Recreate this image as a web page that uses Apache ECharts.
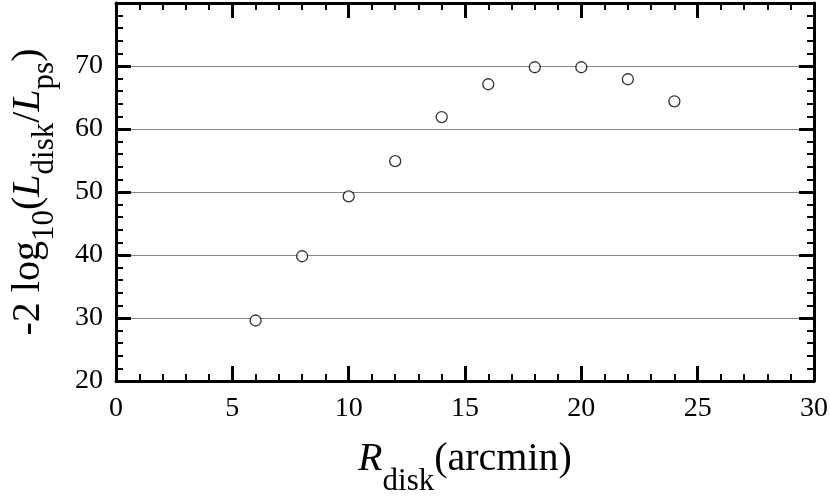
<!DOCTYPE html>
<html>
<head>
<meta charset="utf-8">
<script src="https://cdn.jsdelivr.net/npm/echarts@6/dist/echarts.min.js"></script>
<style>
    html, body { margin: 0; padding: 0; background: #fff; }
    #main { width: 830px; height: 498px; }
</style>
</head>
<body>
<div id="main"></div>
<script>
    // 数据
    const rDisk = [6, 8, 10, 12, 14, 16, 18, 20, 22, 24];
    const logRatio = [29.6, 39.8, 49.3, 54.9, 61.9, 67.1, 69.8, 69.8, 67.9, 64.4];
    const xRange = [0, 30];
    const yRange = [20, 80];
    const yLabelMax = 70; // 80 不显示

    const serif = "'Liberation Serif', 'Times New Roman', serif";

    let chart = echarts.init(document.getElementById('main'));

    // 四边框 + 向内刻度
    function frameAxis(extra) {
        return Object.assign({
            type: 'value',
            axisLine: {show: true, onZero: false, lineStyle: {color: '#000', width: 3}},
            axisTick: {show: true, inside: true, length: 15, lineStyle: {color: '#000', width: 3}},
            minorTick: {show: true, splitNumber: 5, length: 7, lineStyle: {color: '#000', width: 2}},
            splitLine: {show: false},
            axisLabel: {show: false}
        }, extra);
    }

    // 上下标样式
    function subRich(lift) {
        return {
            t: {fontSize: 40, fontFamily: serif, color: '#000', verticalAlign: 'bottom', padding: [0, 0, lift, 0]},
            i: {fontSize: 40, fontFamily: serif, fontStyle: 'italic', color: '#000', verticalAlign: 'bottom', padding: [0, 0, lift, 0]},
            s: {fontSize: 31, fontFamily: serif, color: '#000', verticalAlign: 'bottom'}
        };
    }

    chart.setOption({
        animation: false,
        grid: {left: 116, right: 16, top: 3, bottom: 117, outerBoundsMode: 'none'},
        xAxis: [
            frameAxis({
                position: 'bottom',
                min: xRange[0], max: xRange[1], interval: 5,
                axisLabel: {show: true, margin: 14, color: '#000', fontSize: 28, fontFamily: serif},
                name: '{i|R}{s|disk}{t|(arcmin)}',
                nameLocation: 'middle',
                nameGap: 58,
                nameTextStyle: {rich: subRich(18)}
            }),
            frameAxis({position: 'top', min: xRange[0], max: xRange[1], interval: 5})
        ],
        yAxis: [
            frameAxis({
                position: 'left',
                min: yRange[0], max: yRange[1], interval: 10,
                splitLine: {show: true, lineStyle: {color: '#888', width: 1}},
                axisLabel: {
                    show: true, margin: 13, color: '#000', fontSize: 28, fontFamily: serif,
                    formatter: function (v) { return v > yLabelMax ? '' : v; }
                },
                name: '{t|-2 log}{s|10}{t|(}{i|L}{s|disk}{t|/}{i|L}{s|ps}{t|)}',
                nameLocation: 'middle',
                nameGap: 56,
                nameTextStyle: {rich: subRich(12)}
            }),
            frameAxis({position: 'right', min: yRange[0], max: yRange[1], interval: 10})
        ],
        series: [{
            type: 'scatter',
            symbol: 'circle',
            symbolSize: 11,
            itemStyle: {color: '#fff', borderColor: '#000', borderWidth: 1.3},
            data: rDisk.map((x, i) => [x, logRatio[i]])
        }]
    });
</script>
</body>
</html>
